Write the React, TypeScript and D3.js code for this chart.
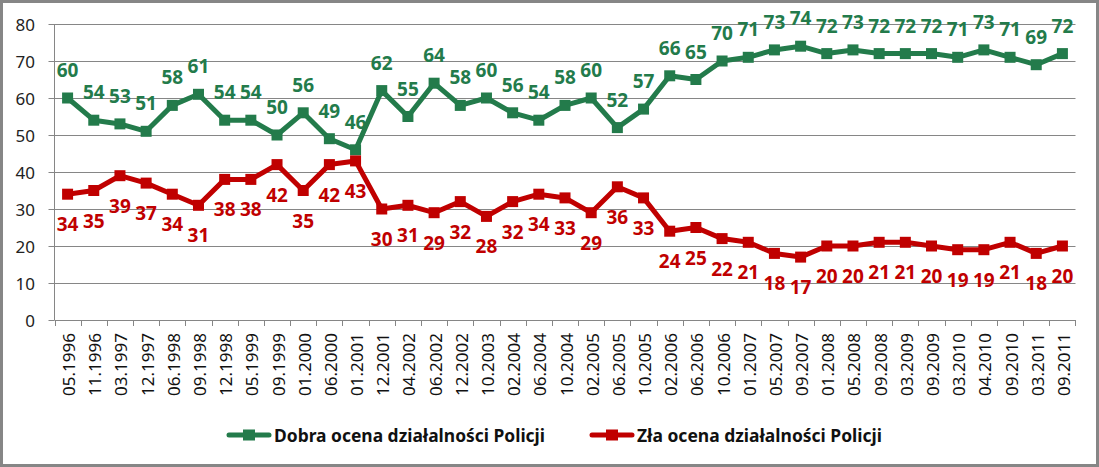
import * as d3 from "d3";

const categories = [
  "05.1996", "11.1996", "03.1997", "12.1997", "06.1998", "09.1998", "12.1998", "05.1999",
  "09.1999", "01.2000", "06.2000", "01.2001", "12.2001", "04.2002", "06.2002", "12.2002",
  "10.2003", "02.2004", "06.2004", "10.2004", "02.2005", "06.2005", "10.2005", "02.2006",
  "06.2006", "10.2006", "01.2007", "05.2007", "09.2007", "01.2008", "05.2008", "09.2008",
  "03.2009", "09.2009", "03.2010", "04.2010", "09.2010", "03.2011", "09.2011",
];

const goodValues = [
  60, 54, 53, 51, 58, 61, 54, 54, 50, 56, 49, 46, 62, 55, 64, 58, 60, 56, 54, 58,
  60, 52, 57, 66, 65, 70, 71, 73, 74, 72, 73, 72, 72, 72, 71, 73, 71, 69, 72,
];

const badValues = [
  34, 35, 39, 37, 34, 31, 38, 38, 42, 35, 42, 43, 30, 31, 29, 32, 28, 32, 34, 33,
  29, 36, 33, 24, 25, 22, 21, 18, 17, 20, 20, 21, 21, 20, 19, 19, 21, 18, 20,
];

const yTicks = [0, 10, 20, 30, 40, 50, 60, 70, 80];

const WIDTH = 1099;
const HEIGHT = 467;
const PLOT = { left: 54.5, right: 1075.5, top: 24, bottom: 320 };
const GREEN = "#237b4b";
const RED = "#c00000";
const AXIS = "#868686";
const FONT = "'Noto Sans', sans-serif";

const series = [
  { name: "Dobra ocena działalności Policji", values: goodValues, color: GREEN, above: true },
  { name: "Zła ocena działalności Policji", values: badValues, color: RED, above: false },
];

export default function App() {
  const x = d3
    .scaleBand<string>()
    .domain(categories)
    .range([PLOT.left, PLOT.right])
    .paddingInner(0)
    .paddingOuter(0);
  const bw = x.bandwidth();
  const cx = (c: string) => (x(c) ?? 0) + bw / 2;
  const y = d3.scaleLinear().domain([0, 80]).range([PLOT.bottom, PLOT.top]);

  const line = d3
    .line<number>()
    .x((_, i) => cx(categories[i]))
    .y((v) => y(v));

  // legend swatch start, text start and text width
  const legendItems = [
    { x0: 227, textX: 274, textW: 271 },
    { x0: 590, textX: 637, textW: 245 },
  ];
  const LEGEND_Y = 435;

  return (
    <svg
      width={WIDTH}
      height={HEIGHT}
      style={{ position: "absolute", left: 0, top: 0, background: "#fff" }}
      fontFamily={FONT}
    >
      <rect x={1.5} y={1.5} width={WIDTH - 3} height={HEIGHT - 3} fill="#fff" stroke={AXIS} strokeWidth={3} />

      {/* grid + y labels */}
      {yTicks.map((t) => (
        <g key={t}>
          {t > 0 && (
            <line x1={PLOT.left} x2={PLOT.right} y1={y(t) + 0.5} y2={y(t) + 0.5} stroke={AXIS} strokeWidth={1} />
          )}
          <line x1={PLOT.left - 6} x2={PLOT.left} y1={y(t) + 0.5} y2={y(t) + 0.5} stroke={AXIS} />
          <text
            x={35}
            y={y(t)}
            textAnchor="end"
            dominantBaseline="central"
            fontSize={17}
            fill="#222"
          >
            {t}
          </text>
        </g>
      ))}

      {/* axes */}
      <line x1={PLOT.left} x2={PLOT.left} y1={PLOT.top} y2={PLOT.bottom} stroke={AXIS} />
      <line x1={PLOT.left} x2={PLOT.right} y1={PLOT.bottom + 0.5} y2={PLOT.bottom + 0.5} stroke={AXIS} />
      {categories.map((c) => (
        <line
          key={"t" + c}
          x1={Math.round(x(c) ?? 0) + 0.5}
          x2={Math.round(x(c) ?? 0) + 0.5}
          y1={PLOT.bottom}
          y2={PLOT.bottom + 6}
          stroke={AXIS}
        />
      ))}
      <line x1={PLOT.right} x2={PLOT.right} y1={PLOT.bottom} y2={PLOT.bottom + 6} stroke={AXIS} />

      {categories.map((c) => (
        <text
          key={"l" + c}
          transform={`translate(${cx(c) + 1},333) rotate(-90)`}
          textAnchor="end"
          dominantBaseline="central"
          fontSize={17}
          fill="#111"
        >
          {c}
        </text>
      ))}

      {/* series */}
      {series.map((s) => (
        <g key={s.name}>
          <path d={line(s.values) ?? ""} fill="none" stroke={s.color} strokeWidth={5} strokeLinejoin="round" />
          {s.values.map((v, i) => (
            <rect
              key={i}
              x={cx(categories[i]) - 5.5}
              y={y(v) - 5.5}
              width={11}
              height={11}
              fill={s.color}
            />
          ))}
          {s.values.map((v, i) => (
            <text
              key={"d" + i}
              x={cx(categories[i])}
              y={s.above ? y(v) - 21 : y(v) + 37}
              textAnchor="middle"
              fontSize={19}
              fontWeight="bold"
              fill={s.color}
            >
              {v}
            </text>
          ))}
        </g>
      ))}

      {/* legend */}
      {series.map((s, i) => {
        const li = legendItems[i];
        return (
          <g key={"lg" + s.name}>
            <line x1={li.x0 + 2} x2={li.x0 + 42} y1={LEGEND_Y} y2={LEGEND_Y} stroke={s.color} strokeWidth={5} strokeLinecap="round" />
            <rect x={li.x0 + 16} y={LEGEND_Y - 5.5} width={12} height={11} fill={s.color} />
            <text
              x={li.textX}
              y={LEGEND_Y}
              dominantBaseline="central"
              fontSize={18}
              fontWeight="bold"
              fill="#111"
              textLength={li.textW}
              lengthAdjust="spacingAndGlyphs"
            >
              {s.name}
            </text>
          </g>
        );
      })}
    </svg>
  );
}
